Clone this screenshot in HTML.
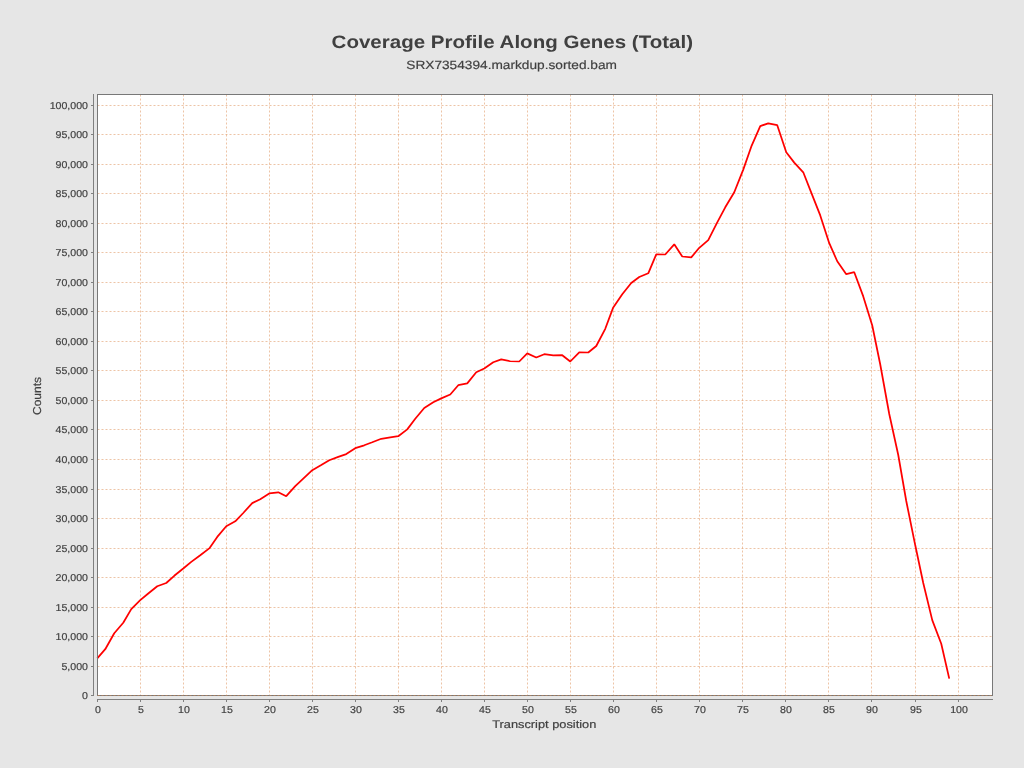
<!DOCTYPE html>
<html><head><meta charset="utf-8"><style>
html,body{margin:0;padding:0;}
body{width:1024px;height:768px;background:#E6E6E6;overflow:hidden;}
svg{position:absolute;left:0;top:0;font-family:"Liberation Sans",sans-serif;text-rendering:geometricPrecision;will-change:transform;}
</style></head><body>
<svg width="1024" height="768" viewBox="0 0 1024 768">
<rect x="97" y="94" width="896" height="602" fill="#FFFFFF"/>
<g stroke="#DB894D" stroke-opacity="0.5" stroke-width="1" stroke-dasharray="2,2" fill="none">
<line x1="97.5" y1="695.5" x2="992" y2="695.5"/>
<line x1="97.5" y1="666.5" x2="992" y2="666.5"/>
<line x1="97.5" y1="636.5" x2="992" y2="636.5"/>
<line x1="97.5" y1="607.5" x2="992" y2="607.5"/>
<line x1="97.5" y1="577.5" x2="992" y2="577.5"/>
<line x1="97.5" y1="548.5" x2="992" y2="548.5"/>
<line x1="97.5" y1="518.5" x2="992" y2="518.5"/>
<line x1="97.5" y1="489.5" x2="992" y2="489.5"/>
<line x1="97.5" y1="459.5" x2="992" y2="459.5"/>
<line x1="97.5" y1="429.5" x2="992" y2="429.5"/>
<line x1="97.5" y1="400.5" x2="992" y2="400.5"/>
<line x1="97.5" y1="370.5" x2="992" y2="370.5"/>
<line x1="97.5" y1="341.5" x2="992" y2="341.5"/>
<line x1="97.5" y1="311.5" x2="992" y2="311.5"/>
<line x1="97.5" y1="282.5" x2="992" y2="282.5"/>
<line x1="97.5" y1="252.5" x2="992" y2="252.5"/>
<line x1="97.5" y1="223.5" x2="992" y2="223.5"/>
<line x1="97.5" y1="193.5" x2="992" y2="193.5"/>
<line x1="97.5" y1="164.5" x2="992" y2="164.5"/>
<line x1="97.5" y1="134.5" x2="992" y2="134.5"/>
<line x1="97.5" y1="105.5" x2="992" y2="105.5"/>
<line x1="140.5" y1="95" x2="140.5" y2="695" stroke-dashoffset="0.5"/>
<line x1="183.5" y1="95" x2="183.5" y2="695" stroke-dashoffset="0.5"/>
<line x1="226.5" y1="95" x2="226.5" y2="695" stroke-dashoffset="0.5"/>
<line x1="269.5" y1="95" x2="269.5" y2="695" stroke-dashoffset="0.5"/>
<line x1="312.5" y1="95" x2="312.5" y2="695" stroke-dashoffset="0.5"/>
<line x1="355.5" y1="95" x2="355.5" y2="695" stroke-dashoffset="0.5"/>
<line x1="398.5" y1="95" x2="398.5" y2="695" stroke-dashoffset="0.5"/>
<line x1="441.5" y1="95" x2="441.5" y2="695" stroke-dashoffset="0.5"/>
<line x1="484.5" y1="95" x2="484.5" y2="695" stroke-dashoffset="0.5"/>
<line x1="527.5" y1="95" x2="527.5" y2="695" stroke-dashoffset="0.5"/>
<line x1="570.5" y1="95" x2="570.5" y2="695" stroke-dashoffset="0.5"/>
<line x1="613.5" y1="95" x2="613.5" y2="695" stroke-dashoffset="0.5"/>
<line x1="656.5" y1="95" x2="656.5" y2="695" stroke-dashoffset="0.5"/>
<line x1="699.5" y1="95" x2="699.5" y2="695" stroke-dashoffset="0.5"/>
<line x1="742.5" y1="95" x2="742.5" y2="695" stroke-dashoffset="0.5"/>
<line x1="785.5" y1="95" x2="785.5" y2="695" stroke-dashoffset="0.5"/>
<line x1="828.5" y1="95" x2="828.5" y2="695" stroke-dashoffset="0.5"/>
<line x1="871.5" y1="95" x2="871.5" y2="695" stroke-dashoffset="0.5"/>
<line x1="915.5" y1="95" x2="915.5" y2="695" stroke-dashoffset="0.5"/>
<line x1="958.5" y1="95" x2="958.5" y2="695" stroke-dashoffset="0.5"/>
</g>
<polyline points="97.25,658.30 105.25,649.20 114.25,633.20 123.25,622.80 131.25,609.10 140.25,600.20 148.25,593.50 157.25,586.30 166.25,583.00 174.25,575.80 183.25,568.50 191.25,561.90 200.25,555.20 209.25,548.40 217.25,536.90 226.25,526.20 235.25,521.30 243.25,513.00 252.25,503.10 260.25,499.20 269.25,493.40 278.25,492.30 286.25,496.20 295.25,486.10 303.25,478.60 312.25,470.20 321.25,465.10 329.25,460.30 338.25,456.90 346.25,454.10 355.25,448.20 364.25,445.30 372.25,442.30 381.25,438.80 390.25,437.30 398.25,436.20 407.25,429.40 415.25,418.80 424.25,408.00 433.25,402.20 441.25,398.40 450.25,394.50 458.25,385.20 467.25,383.40 476.25,372.20 484.25,368.50 493.25,362.30 501.25,359.40 510.25,361.25 519.25,361.50 527.25,353.40 536.25,357.50 544.25,354.20 553.25,355.40 562.25,355.20 570.25,361.50 579.25,352.30 588.25,352.50 596.25,346.00 605.25,328.80 613.25,307.40 622.25,294.20 631.25,283.00 639.25,277.00 648.25,273.30 656.25,254.40 665.25,254.50 674.25,244.30 682.25,256.50 691.25,257.40 699.25,247.80 708.25,240.10 717.25,222.40 725.25,207.30 734.25,192.20 743.25,169.60 751.25,146.70 760.25,126.10 768.25,123.30 777.25,125.20 786.25,152.20 794.25,162.60 803.25,172.30 811.25,192.60 820.25,215.40 829.25,243.20 837.25,261.25 846.25,274.20 854.25,272.20 863.25,296.40 872.25,325.50 880.25,364.50 889.25,414.00 898.25,455.00 906.25,501.00 915.25,545.30 923.25,583.00 932.25,620.10 941.25,643.75 949.25,678.60" fill="none" stroke="#FF0000" stroke-width="1.75" stroke-linejoin="bevel"/>
<g shape-rendering="crispEdges">
<rect x="97.5" y="94.5" width="895" height="601" fill="none" stroke="#787878" stroke-width="1"/>
<rect x="93" y="94" width="1" height="602" fill="#808080"/>
<rect x="97" y="699" width="896" height="1" fill="#808080"/>
<rect x="91" y="695" width="2" height="1" fill="#808080"/>
<rect x="91" y="666" width="2" height="1" fill="#808080"/>
<rect x="91" y="636" width="2" height="1" fill="#808080"/>
<rect x="91" y="607" width="2" height="1" fill="#808080"/>
<rect x="91" y="577" width="2" height="1" fill="#808080"/>
<rect x="91" y="548" width="2" height="1" fill="#808080"/>
<rect x="91" y="518" width="2" height="1" fill="#808080"/>
<rect x="91" y="489" width="2" height="1" fill="#808080"/>
<rect x="91" y="459" width="2" height="1" fill="#808080"/>
<rect x="91" y="429" width="2" height="1" fill="#808080"/>
<rect x="91" y="400" width="2" height="1" fill="#808080"/>
<rect x="91" y="370" width="2" height="1" fill="#808080"/>
<rect x="91" y="341" width="2" height="1" fill="#808080"/>
<rect x="91" y="311" width="2" height="1" fill="#808080"/>
<rect x="91" y="282" width="2" height="1" fill="#808080"/>
<rect x="91" y="252" width="2" height="1" fill="#808080"/>
<rect x="91" y="223" width="2" height="1" fill="#808080"/>
<rect x="91" y="193" width="2" height="1" fill="#808080"/>
<rect x="91" y="164" width="2" height="1" fill="#808080"/>
<rect x="91" y="134" width="2" height="1" fill="#808080"/>
<rect x="91" y="105" width="2" height="1" fill="#808080"/>
<rect x="97" y="700" width="1" height="2" fill="#808080"/>
<rect x="140" y="700" width="1" height="2" fill="#808080"/>
<rect x="183" y="700" width="1" height="2" fill="#808080"/>
<rect x="226" y="700" width="1" height="2" fill="#808080"/>
<rect x="269" y="700" width="1" height="2" fill="#808080"/>
<rect x="312" y="700" width="1" height="2" fill="#808080"/>
<rect x="355" y="700" width="1" height="2" fill="#808080"/>
<rect x="398" y="700" width="1" height="2" fill="#808080"/>
<rect x="441" y="700" width="1" height="2" fill="#808080"/>
<rect x="484" y="700" width="1" height="2" fill="#808080"/>
<rect x="527" y="700" width="1" height="2" fill="#808080"/>
<rect x="570" y="700" width="1" height="2" fill="#808080"/>
<rect x="613" y="700" width="1" height="2" fill="#808080"/>
<rect x="656" y="700" width="1" height="2" fill="#808080"/>
<rect x="699" y="700" width="1" height="2" fill="#808080"/>
<rect x="742" y="700" width="1" height="2" fill="#808080"/>
<rect x="785" y="700" width="1" height="2" fill="#808080"/>
<rect x="828" y="700" width="1" height="2" fill="#808080"/>
<rect x="871" y="700" width="1" height="2" fill="#808080"/>
<rect x="915" y="700" width="1" height="2" fill="#808080"/>
<rect x="958" y="700" width="1" height="2" fill="#808080"/>
</g>
<g stroke="#DB894D" stroke-opacity="0.5" stroke-width="1" stroke-dasharray="2,2" fill="none">
<line x1="97.5" y1="695.5" x2="992" y2="695.5"/>
</g>
<g fill="#404040" stroke="#404040" stroke-width="0.18">
<text transform="translate(512.3,48) scale(1.14,1)" font-size="18" font-weight="bold" text-anchor="middle" stroke-width="0">Coverage Profile Along Genes (Total)</text>
<text transform="translate(511.6,68.7) scale(1.14,1)" font-size="12" font-weight="normal" text-anchor="middle">SRX7354394.markdup.sorted.bam</text>
<text transform="translate(41.2,396) rotate(-90) scale(1.04,1)" font-size="11.5" font-weight="normal" text-anchor="middle">Counts</text>
<text transform="translate(544.25,727.85) scale(1.165,1)" font-size="11" font-weight="normal" text-anchor="middle">Transcript position</text>
<text transform="translate(88,699) scale(1.06,1)" font-size="10" font-weight="normal" text-anchor="end">0</text>
<text transform="translate(88,670) scale(1.06,1)" font-size="10" font-weight="normal" text-anchor="end">5,000</text>
<text transform="translate(88,640) scale(1.06,1)" font-size="10" font-weight="normal" text-anchor="end">10,000</text>
<text transform="translate(88,611) scale(1.06,1)" font-size="10" font-weight="normal" text-anchor="end">15,000</text>
<text transform="translate(88,581) scale(1.06,1)" font-size="10" font-weight="normal" text-anchor="end">20,000</text>
<text transform="translate(88,552) scale(1.06,1)" font-size="10" font-weight="normal" text-anchor="end">25,000</text>
<text transform="translate(88,522) scale(1.06,1)" font-size="10" font-weight="normal" text-anchor="end">30,000</text>
<text transform="translate(88,493) scale(1.06,1)" font-size="10" font-weight="normal" text-anchor="end">35,000</text>
<text transform="translate(88,463) scale(1.06,1)" font-size="10" font-weight="normal" text-anchor="end">40,000</text>
<text transform="translate(88,433) scale(1.06,1)" font-size="10" font-weight="normal" text-anchor="end">45,000</text>
<text transform="translate(88,404) scale(1.06,1)" font-size="10" font-weight="normal" text-anchor="end">50,000</text>
<text transform="translate(88,374) scale(1.06,1)" font-size="10" font-weight="normal" text-anchor="end">55,000</text>
<text transform="translate(88,345) scale(1.06,1)" font-size="10" font-weight="normal" text-anchor="end">60,000</text>
<text transform="translate(88,315) scale(1.06,1)" font-size="10" font-weight="normal" text-anchor="end">65,000</text>
<text transform="translate(88,286) scale(1.06,1)" font-size="10" font-weight="normal" text-anchor="end">70,000</text>
<text transform="translate(88,256) scale(1.06,1)" font-size="10" font-weight="normal" text-anchor="end">75,000</text>
<text transform="translate(88,227) scale(1.06,1)" font-size="10" font-weight="normal" text-anchor="end">80,000</text>
<text transform="translate(88,197) scale(1.06,1)" font-size="10" font-weight="normal" text-anchor="end">85,000</text>
<text transform="translate(88,168) scale(1.06,1)" font-size="10" font-weight="normal" text-anchor="end">90,000</text>
<text transform="translate(88,138) scale(1.06,1)" font-size="10" font-weight="normal" text-anchor="end">95,000</text>
<text transform="translate(88,109) scale(1.06,1)" font-size="10" font-weight="normal" text-anchor="end">100,000</text>
<text transform="translate(98,713) scale(1.06,1)" font-size="10" font-weight="normal" text-anchor="middle">0</text>
<text transform="translate(141,713) scale(1.06,1)" font-size="10" font-weight="normal" text-anchor="middle">5</text>
<text transform="translate(184,713) scale(1.06,1)" font-size="10" font-weight="normal" text-anchor="middle">10</text>
<text transform="translate(227,713) scale(1.06,1)" font-size="10" font-weight="normal" text-anchor="middle">15</text>
<text transform="translate(270,713) scale(1.06,1)" font-size="10" font-weight="normal" text-anchor="middle">20</text>
<text transform="translate(313,713) scale(1.06,1)" font-size="10" font-weight="normal" text-anchor="middle">25</text>
<text transform="translate(356,713) scale(1.06,1)" font-size="10" font-weight="normal" text-anchor="middle">30</text>
<text transform="translate(399,713) scale(1.06,1)" font-size="10" font-weight="normal" text-anchor="middle">35</text>
<text transform="translate(442,713) scale(1.06,1)" font-size="10" font-weight="normal" text-anchor="middle">40</text>
<text transform="translate(485,713) scale(1.06,1)" font-size="10" font-weight="normal" text-anchor="middle">45</text>
<text transform="translate(528,713) scale(1.06,1)" font-size="10" font-weight="normal" text-anchor="middle">50</text>
<text transform="translate(571,713) scale(1.06,1)" font-size="10" font-weight="normal" text-anchor="middle">55</text>
<text transform="translate(614,713) scale(1.06,1)" font-size="10" font-weight="normal" text-anchor="middle">60</text>
<text transform="translate(657,713) scale(1.06,1)" font-size="10" font-weight="normal" text-anchor="middle">65</text>
<text transform="translate(700,713) scale(1.06,1)" font-size="10" font-weight="normal" text-anchor="middle">70</text>
<text transform="translate(743,713) scale(1.06,1)" font-size="10" font-weight="normal" text-anchor="middle">75</text>
<text transform="translate(786,713) scale(1.06,1)" font-size="10" font-weight="normal" text-anchor="middle">80</text>
<text transform="translate(829,713) scale(1.06,1)" font-size="10" font-weight="normal" text-anchor="middle">85</text>
<text transform="translate(872,713) scale(1.06,1)" font-size="10" font-weight="normal" text-anchor="middle">90</text>
<text transform="translate(916,713) scale(1.06,1)" font-size="10" font-weight="normal" text-anchor="middle">95</text>
<text transform="translate(959,713) scale(1.06,1)" font-size="10" font-weight="normal" text-anchor="middle">100</text>
</g>
</svg>
</body></html>
